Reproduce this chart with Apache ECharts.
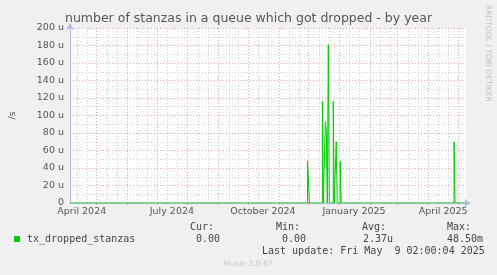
<!DOCTYPE html>
<html><head><meta charset="utf-8">
<script src="https://cdn.jsdelivr.net/npm/echarts@6/dist/echarts.min.js"></script>
<style>html,body{margin:0;padding:0;background:#f0f0f0;}#c{width:497px;height:275px;}</style>
</head><body><div id="c"></div>
<script>
// ---- data (values in micro-units per second, "u") ----
const stepDates = ['2024-04-04T02:00', '2024-11-30', '2024-12-02', '2024-12-15', '2024-12-16',
  '2024-12-18', '2024-12-19', '2024-12-20', '2024-12-21', '2024-12-22', '2024-12-26', '2024-12-27',
  '2024-12-29', '2024-12-30', '2025-01-02', '2025-01-03', '2025-04-27', '2025-04-28', '2025-05-09T02:00'];
const stepValues = [0, 47.5, 0, 116, 0, 93, 82, 0, 181, 0, 116, 0, 70, 0, 47.5, 0, 70, 0, 0];
const yTickLabels = ['0', '20 u', '40 u', '60 u', '80 u', '100 u', '120 u', '140 u', '160 u', '180 u', '200 u'];
const xLabelDates = ['2024-04-16', '2024-07-16', '2024-10-16', '2025-01-16', '2025-04-16'];
const xLabelTexts = ['April 2024', 'July 2024', 'October 2024', 'January 2025', 'April 2025'];
const monthStarts = ['2024-04-01', '2024-05-01', '2024-06-01', '2024-07-01', '2024-08-01', '2024-09-01',
  '2024-10-01', '2024-11-01', '2024-12-01', '2025-01-01', '2025-02-01', '2025-03-01', '2025-04-01', '2025-05-01'];
const seriesName = 'tx_dropped_stanzas';
const statHeaders = ['Cur:', 'Min:', 'Avg:', 'Max:'];
const statValues = ['0.00', '0.00', '2.37u', '48.50m'];
const lastUpdate = 'Last update: Fri May  9 02:00:04 2025';
const titleText = 'number of stanzas in a queue which got dropped - by year';

const t = s => Date.parse(s.length === 10 ? s + 'T00:00:00Z' : s + ':00Z');
const DAY = 86400000;
const xMin = t('2024-04-04T02:00'), xMax = t('2025-05-09T02:00');
const majorTicks = monthStarts.map(t).filter(v => v > xMin && v < xMax);
const minorTicks = [];
monthStarts.map(t).forEach(m => { [10.5, 20.5].forEach(o => { const v = m + o * DAY; if (v > xMin && v < xMax) minorTicks.push(v); }); });
const labelVals = xLabelDates.map(t);
const data = stepDates.map((d, i) => [t(d), stepValues[i]]);

const mono = 'DejaVu Sans Mono';
const sans = 'DejaVu Sans';
const majorColor = 'rgba(222,60,60,0.45)';
const minorColor = 'rgba(140,140,140,0.4)';
const legendTexts = [];
const hdrX = [190, 276, 362, 447];
const valX = [196, 282, 363, 447];
statHeaders.forEach((h, i) => legendTexts.push({type: 'text', left: hdrX[i], top: 222, style: {text: h, font: '10px ' + mono, fill: '#444'}}));
statValues.forEach((h, i) => legendTexts.push({type: 'text', left: valX[i], top: 234, style: {text: h, font: '10px ' + mono, fill: '#444'}}));

const gridLines = (vals, color) => ({
  type: 'line', data: [], z: 1, silent: true, animation: false,
  markLine: {silent: true, symbol: ['none', 'none'], animation: false, label: {show: false},
    lineStyle: {color: color, type: [1, 2], width: 1},
    emphasis: {disabled: true},
    data: vals.map(v => ({xAxis: v}))}
});

const chart = echarts.init(document.getElementById('c'), null, {renderer: 'canvas'});
chart.setOption({
  backgroundColor: '#f0f0f0',
  animation: false,
  title: {text: titleText, left: 'center', top: 12, padding: 0,
    textStyle: {fontFamily: sans, fontSize: 12.5, fontWeight: 'normal', color: '#555'}},
  grid: {left: 66, top: 28, width: 400, height: 175, show: true, backgroundColor: '#fff', borderWidth: 0},
  xAxis: {
    type: 'value', min: xMin, max: xMax, position: 'bottom',
    axisLine: {show: true, lineStyle: {color: '#b8b8f0', width: 1}, symbol: ['none', 'arrow'], symbolSize: [6, 7], symbolOffset: [0, 5]},
    axisTick: {show: true, customValues: majorTicks, length: 2, lineStyle: {color: '#e8a0a0'}},
    axisLabel: {customValues: labelVals, margin: 4, fontFamily: sans, fontSize: 9.5, color: '#555',
      formatter: v => { const i = labelVals.indexOf(v); return i >= 0 ? xLabelTexts[i] : ''; }},
    splitLine: {show: false}
  },
  yAxis: {
    type: 'value', min: 0, max: 200, interval: 20,
    name: '/s', nameLocation: 'middle', nameGap: 52, nameRotate: 90,
    nameTextStyle: {fontFamily: sans, fontSize: 9.5, color: '#555'},
    axisLine: {show: true, lineStyle: {color: '#b8b8f0', width: 1}, symbol: ['none', 'arrow'], symbolSize: [6, 7], symbolOffset: [0, 5]},
    axisTick: {show: false},
    axisLabel: {margin: 6, fontFamily: sans, fontSize: 9.5, color: '#555', formatter: (v) => yTickLabels[Math.round(v / 20)]},
    splitLine: {show: true, lineStyle: {color: majorColor, type: [1, 2], width: 1}},
    minorTick: {show: false, splitNumber: 2},
    minorSplitLine: {show: true, lineStyle: {color: minorColor, type: [1, 2], width: 1}}
  },
  series: [
    gridLines(minorTicks, minorColor),
    gridLines(majorTicks, majorColor),
    {
      name: seriesName, type: 'line', step: 'end', data: data,
      showSymbol: false, symbol: 'none', lineStyle: {color: '#00cc00', width: 1}, z: 5
    }
  ],
  graphic: [
    {type: 'rect', left: 14, top: 236, shape: {width: 6, height: 6}, style: {fill: '#00cc00'}},
    {type: 'text', left: 27, top: 234, style: {text: seriesName, font: '10px ' + mono, fill: '#444'}},
    ...legendTexts,
    {type: 'text', left: 262, top: 246, style: {text: lastUpdate, font: '10px ' + mono, fill: '#444'}},
    {type: 'text', left: 223, top: 260, style: {text: 'Munin 2.0.67', font: '7.6px ' + sans, fill: '#c8c8c8'}},
    {type: 'text', x: 492, y: 5, rotation: -Math.PI / 2, style: {text: 'RRDTOOL / TOBI OETIKER', font: '7.5px ' + sans, fill: '#c0c0c0'}}
  ]
});
</script></body></html>
